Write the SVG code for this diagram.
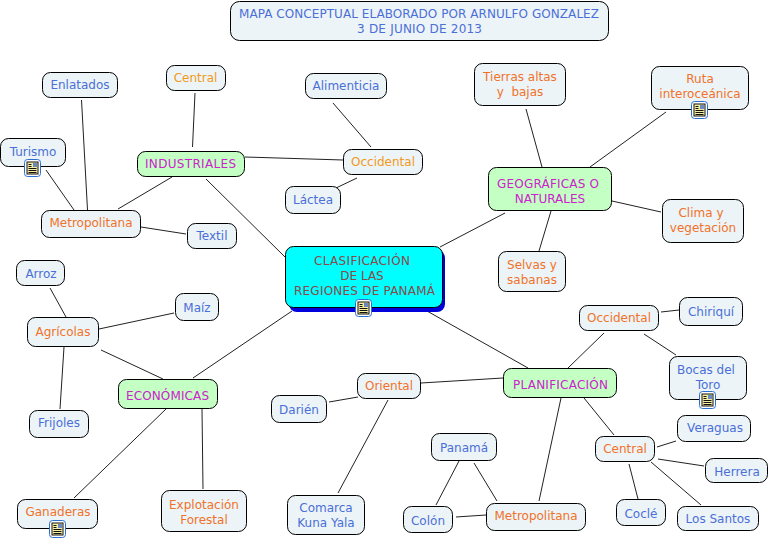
<svg xmlns="http://www.w3.org/2000/svg" width="769" height="540" viewBox="0 0 769 540">
<style>
.n{fill:#edf4f7;stroke:#000;stroke-width:1}
.g{fill:#c4ffc4;stroke:#000;stroke-width:1}
text{font-family:"DejaVu Sans",Verdana,sans-serif;font-size:12px;text-anchor:middle}
.b{fill:#4a6fd8}.o{fill:#f0722a}.y{fill:#f09a20}.m{fill:#cc22cc}.r{fill:#8a4a4a}
#c line{stroke:#222;stroke-width:1}
</style>
<defs>
<g id="i"><rect x="0.5" y="0.5" width="16" height="17" rx="3" fill="#fff" stroke="#2a6fd0"/><rect x="3" y="3" width="11" height="12" fill="#f5eda0" stroke="#111"/><path d="M4.500 5.500h3M4.500 7.500h3M4.500 9.500h8M4.500 11.500h8M4.500 13.500h8" stroke="#111" stroke-width="1"/><rect x="9" y="4" width="4" height="4" fill="#6a8ac0"/></g>
</defs>
<rect width="769" height="540" fill="#fff"/>
<g id="c">
<line x1="81.500" y1="100" x2="87.500" y2="210"/>
<line x1="195" y1="93" x2="192.500" y2="147"/>
<line x1="46" y1="170" x2="74" y2="210"/>
<line x1="172" y1="177" x2="118" y2="209"/>
<line x1="141" y1="227" x2="186" y2="234"/>
<line x1="245" y1="157" x2="343" y2="160"/>
<line x1="333" y1="103" x2="371" y2="147"/>
<line x1="357" y1="178" x2="336" y2="188"/>
<line x1="206" y1="179" x2="285" y2="257"/>
<line x1="526" y1="109" x2="542" y2="167"/>
<line x1="666" y1="112" x2="590" y2="167"/>
<line x1="612" y1="201" x2="661" y2="212"/>
<line x1="551" y1="211" x2="539" y2="251"/>
<line x1="505" y1="213" x2="440" y2="247"/>
<line x1="292" y1="311" x2="193" y2="378"/>
<line x1="427" y1="311" x2="528" y2="368"/>
<line x1="50" y1="288" x2="66" y2="317"/>
<line x1="174" y1="313" x2="99" y2="329"/>
<line x1="64" y1="347" x2="60" y2="409"/>
<line x1="101" y1="350" x2="163" y2="379"/>
<line x1="166" y1="409" x2="74" y2="498"/>
<line x1="202" y1="409" x2="203" y2="489"/>
<line x1="421" y1="383" x2="503" y2="378"/>
<line x1="358" y1="397" x2="329" y2="402"/>
<line x1="388" y1="400" x2="338" y2="493"/>
<line x1="604" y1="333" x2="568" y2="368"/>
<line x1="661" y1="312" x2="679" y2="310"/>
<line x1="644" y1="334" x2="676" y2="355"/>
<line x1="584" y1="398" x2="614" y2="435"/>
<line x1="561" y1="398" x2="539" y2="501"/>
<line x1="657" y1="447" x2="676" y2="441"/>
<line x1="658" y1="459" x2="704" y2="466"/>
<line x1="629" y1="464" x2="638" y2="499"/>
<line x1="651" y1="462" x2="701" y2="505"/>
<line x1="474" y1="463" x2="497" y2="501"/>
<line x1="459" y1="461" x2="436" y2="505"/>
<line x1="456" y1="517" x2="486" y2="515"/>
</g>
<g id="title"><rect class="n" x="230.500" y="1.500" width="378" height="39" rx="9"/><text class="b" x="419" y="18" textLength="360">MAPA CONCEPTUAL ELABORADO POR ARNULFO GONZALEZ</text><text class="b" x="419.500" y="33" textLength="125">3 DE JUNIO DE 2013</text></g>
<g id="enlatados"><rect class="n" x="42.500" y="72.500" width="75" height="25" rx="8"/><text class="b" x="80" y="89">Enlatados</text></g>
<g id="central-ind"><rect class="n" x="166.500" y="65.500" width="59" height="25" rx="8"/><text class="y" x="195.500" y="82">Central</text></g>
<g id="alimenticia"><rect class="n" x="305.500" y="73.500" width="81" height="25" rx="8"/><text class="b" x="346" y="90">Alimenticia</text></g>
<g id="tierras"><rect class="n" x="474.500" y="63.500" width="91" height="42" rx="8"/><text class="o" x="520" y="81">Tierras altas</text><text class="o" x="520" y="96" xml:space="preserve">y  bajas</text></g>
<g id="ruta"><rect class="n" x="651.500" y="66.500" width="97" height="43" rx="8"/><text class="o" x="700" y="83">Ruta</text><text class="o" x="700" y="98">interoceánica</text><use href="#i" x="691" y="101"/></g>
<g id="turismo"><rect class="n" x="0.500" y="138.500" width="65" height="28" rx="8"/><text class="b" x="33" y="156">Turismo</text><use href="#i" x="24" y="159"/></g>
<g id="industriales"><rect class="g" x="137.500" y="151.500" width="107" height="25" rx="8"/><text class="m" x="190.500" y="168" textLength="91">INDUSTRIALES</text></g>
<g id="occidental-ind"><rect class="n" x="343.500" y="149.500" width="79" height="25" rx="8"/><text class="y" x="383" y="166">Occidental</text></g>
<g id="lactea"><rect class="n" x="285.500" y="186.500" width="55" height="27" rx="8"/><text class="b" x="313" y="204">Láctea</text></g>
<g id="geograficas"><rect class="g" x="488.500" y="167.500" width="123" height="43" rx="8"/><text class="m" x="548" y="188" textLength="102">GEOGRÁFICAS O</text><text class="m" x="550" y="203">NATURALES</text></g>
<g id="clima"><rect class="n" x="662.500" y="199.500" width="81" height="43" rx="8"/><text class="o" x="701" y="217">Clima y</text><text class="o" x="703" y="232">vegetación</text></g>
<g id="metropolitana-ind"><rect class="n" x="41.500" y="210.500" width="99" height="27" rx="8"/><text class="o" x="91" y="227">Metropolitana</text></g>
<g id="textil"><rect class="n" x="187.500" y="223.500" width="49" height="25" rx="8"/><text class="b" x="212" y="240">Textil</text></g>
<g id="centro"><rect x="289" y="250" width="156" height="62" rx="8" fill="#0000dd"/><rect x="285.500" y="246.500" width="157" height="61" rx="8" fill="#00ffff" stroke="#000"/><text class="r" x="362" y="265" textLength="96">CLASIFICACIÓN</text><text class="r" x="362" y="280">DE LAS</text><text class="r" x="364.500" y="295" textLength="141">REGIONES DE PANAMÁ</text><use href="#i" x="355" y="299"/></g>
<g id="selvas"><rect class="n" x="498.500" y="251.500" width="67" height="40" rx="8"/><text class="o" x="532" y="269">Selvas y</text><text class="o" x="532" y="284">sabanas</text></g>
<g id="arroz"><rect class="n" x="16.500" y="260.500" width="48" height="25" rx="8"/><text class="b" x="41" y="278">Arroz</text></g>
<g id="maiz"><rect class="n" x="175.500" y="293.500" width="43" height="27" rx="8"/><text class="b" x="197" y="312">Maíz</text></g>
<g id="agricolas"><rect class="n" x="27.500" y="317.500" width="71" height="29" rx="8"/><text class="o" x="63" y="336">Agrícolas</text></g>
<g id="occidental-pla"><rect class="n" x="579.500" y="305.500" width="79" height="25" rx="8"/><text class="o" x="619" y="322">Occidental</text></g>
<g id="chiriqui"><rect class="n" x="679.500" y="297.500" width="63" height="28" rx="8"/><text class="b" x="711" y="316">Chiriquí</text></g>
<g id="bocas"><rect class="n" x="669.500" y="356.500" width="77" height="43" rx="8"/><text class="b" x="706" y="374">Bocas del</text><text class="b" x="708" y="389">Toro</text><use href="#i" x="699" y="391"/></g>
<g id="planificacion"><rect class="g" x="503.500" y="368.500" width="113" height="29" rx="8"/><text class="m" x="560.500" y="389" textLength="95">PLANIFICACIÓN</text></g>
<g id="oriental"><rect class="n" x="357.500" y="373.500" width="63" height="25" rx="8"/><text class="o" x="389" y="390">Oriental</text></g>
<g id="economicas"><rect class="g" x="118.500" y="379.500" width="99" height="29" rx="8"/><text class="m" x="167.500" y="400" textLength="83">ECONÓMICAS</text></g>
<g id="darien"><rect class="n" x="271.500" y="395.500" width="55" height="27" rx="8"/><text class="b" x="299" y="414">Darién</text></g>
<g id="frijoles"><rect class="n" x="29.500" y="410.500" width="59" height="27" rx="8"/><text class="b" x="59" y="427">Frijoles</text></g>
<g id="veraguas"><rect class="n" x="677.500" y="415.500" width="73" height="26" rx="8"/><text class="b" x="715" y="432">Veraguas</text></g>
<g id="panama"><rect class="n" x="431.500" y="433.500" width="65" height="27" rx="8"/><text class="b" x="464" y="452">Panamá</text></g>
<g id="central-pla"><rect class="n" x="595.500" y="436.500" width="59" height="25" rx="8"/><text class="o" x="625" y="453">Central</text></g>
<g id="herrera"><rect class="n" x="705.500" y="458.500" width="62" height="24" rx="8"/><text class="b" x="737" y="476">Herrera</text></g>
<g id="ganaderas"><rect class="n" x="17.500" y="499.500" width="80" height="29" rx="8"/><text class="o" x="58" y="516">Ganaderas</text><use href="#i" x="49" y="520"/></g>
<g id="explotacion"><rect class="n" x="161.500" y="490.500" width="85" height="41" rx="8"/><text class="o" x="204" y="509">Explotación</text><text class="o" x="204" y="524">Forestal</text></g>
<g id="comarca"><rect class="n" x="287.500" y="495.500" width="77" height="39" rx="8"/><text class="b" x="326" y="512">Comarca</text><text class="b" x="326" y="527">Kuna Yala</text></g>
<g id="cocle"><rect class="n" x="616.500" y="499.500" width="49" height="26" rx="8"/><text class="b" x="641" y="518">Coclé</text></g>
<g id="los-santos"><rect class="n" x="677.500" y="506.500" width="81" height="24" rx="8"/><text class="b" x="718" y="523">Los Santos</text></g>
<g id="colon"><rect class="n" x="403.500" y="506.500" width="49" height="26" rx="8"/><text class="b" x="428" y="525">Colón</text></g>
<g id="metropolitana-pla"><rect class="n" x="486.500" y="503.500" width="99" height="27" rx="8"/><text class="o" x="536" y="520">Metropolitana</text></g>
</svg>
